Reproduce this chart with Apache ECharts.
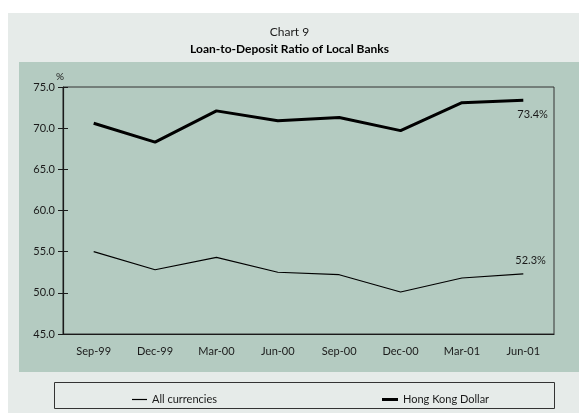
<!DOCTYPE html>
<html>
<head>
<meta charset="utf-8">
<script src="https://cdn.jsdelivr.net/npm/echarts@6/dist/echarts.min.js"></script>
<style>
  html, body { margin: 0; padding: 0; background: #fff; }
  #chart { width: 579px; height: 413px; }
</style>
</head>
<body>
<div id="chart"></div>
<script>
// 季度标签
const quarters = ['Sep-99', 'Dec-99', 'Mar-00', 'Jun-00', 'Sep-00', 'Dec-00', 'Mar-01', 'Jun-01']

// 贷存比 (%)
const allCurrencies = [55.0, 52.8, 54.3, 52.5, 52.2, 50.1, 51.8, 52.3]
const hkDollar = [70.6, 68.3, 72.1, 70.9, 71.3, 69.7, 73.1, 73.4]

const yTicks = [45, 50, 55, 60, 65, 70, 75]

const FONT = 'Lato, "Open Sans", sans-serif'
const INK = '#1a1a1a'

// 末端百分比标注（symbol 为 none 时普通 label 不显示，改用 endLabel）
const endLabel = (offset) => ({
    show: true,
    offset: offset,
    formatter: (p) => p.value.toFixed(1) + '%',
    color: INK,
    fontSize: 11,
    fontFamily: FONT
})

const chart = echarts.init(document.getElementById('chart'), null, { renderer: 'canvas' })

const axisLabelStyle = { color: INK, fontSize: 11, fontFamily: FONT }

chart.setOption({
    animation: false,
    graphic: [
        { type: 'rect', z: -10, shape: { x: 8, y: 13, width: 571, height: 400 }, style: { fill: '#e6ebe9' } },
        { type: 'rect', z: -9, shape: { x: 19, y: 62, width: 560, height: 310 }, style: { fill: '#b4cbc1' } },
        { type: 'rect', z: -8, shape: { x: 54.5, y: 382.5, width: 500, height: 26 }, style: { fill: 'none', stroke: '#333', lineWidth: 1 } }
    ],
    title: {
        text: 'Chart 9',
        subtext: 'Loan-to-Deposit Ratio of Local Banks',
        left: 'center',
        top: 21,
        itemGap: 5,
        textStyle: { color: INK, fontSize: 12, fontWeight: 'normal', fontFamily: FONT },
        subtextStyle: { color: '#000', fontSize: 12, fontWeight: 'bold', fontFamily: FONT }
    },
    legend: [
        {
            data: ['All currencies'],
            left: 127, top: 389,
            icon: 'rect', itemWidth: 15, itemHeight: 1.2, itemGap: 6,
            textStyle: { color: INK, fontSize: 11, fontFamily: FONT }
        },
        {
            data: ['Hong Kong Dollar'],
            left: 377, top: 389,
            icon: 'rect', itemWidth: 16, itemHeight: 3, itemGap: 6,
            textStyle: { color: INK, fontSize: 11, fontFamily: FONT }
        }
    ],
    grid: {
        left: 63, right: 25, top: 87, bottom: 79,
        show: true, borderColor: '#333', borderWidth: 1, backgroundColor: 'transparent'
    },
    xAxis: [
        {
            type: 'category',
            data: quarters,
            boundaryGap: true,
            axisLine: { lineStyle: { color: INK, width: 1.2 } },
            axisTick: { length: 5, lineStyle: { color: INK } },
            axisLabel: Object.assign({ margin: 12 }, axisLabelStyle)
        },
        {
            // 内侧刻度（穿轴效果）
            type: 'category',
            data: quarters,
            position: 'bottom',
            boundaryGap: true,
            axisLine: { show: false },
            axisTick: { inside: true, length: 5, lineStyle: { color: INK } },
            axisLabel: { show: false }
        }
    ],
    yAxis: [
        {
            type: 'value',
            min: yTicks[0], max: yTicks[yTicks.length - 1], interval: 5,
            name: '%',
            nameGap: 5,
            nameTextStyle: { color: INK, fontSize: 10, fontFamily: FONT, align: 'center', padding: [0, 0, 0, -6] },
            axisLine: { show: true, lineStyle: { color: INK, width: 1.2 } },
            axisTick: { show: true, length: 5, lineStyle: { color: INK } },
            splitLine: { show: false },
            axisLabel: Object.assign({ margin: 8, formatter: (v) => v.toFixed(1) }, axisLabelStyle)
        },
        {
            type: 'value',
            position: 'left',
            min: yTicks[0], max: yTicks[yTicks.length - 1], interval: 5,
            axisLine: { show: false },
            axisTick: { show: true, inside: true, length: 5, lineStyle: { color: INK } },
            splitLine: { show: false },
            axisLabel: { show: false }
        }
    ],
    series: [
        {
            name: 'All currencies',
            type: 'line',
            data: allCurrencies,
            symbol: 'none',
            color: '#000',
            lineStyle: { color: '#000', width: 1.2 },
            endLabel: endLabel([-16, -13])
        },
        {
            name: 'Hong Kong Dollar',
            type: 'line',
            data: hkDollar,
            symbol: 'none',
            color: '#000',
            lineStyle: { color: '#000', width: 3 },
            endLabel: endLabel([-14, 14])
        }
    ]
})
</script>
</body>
</html>
